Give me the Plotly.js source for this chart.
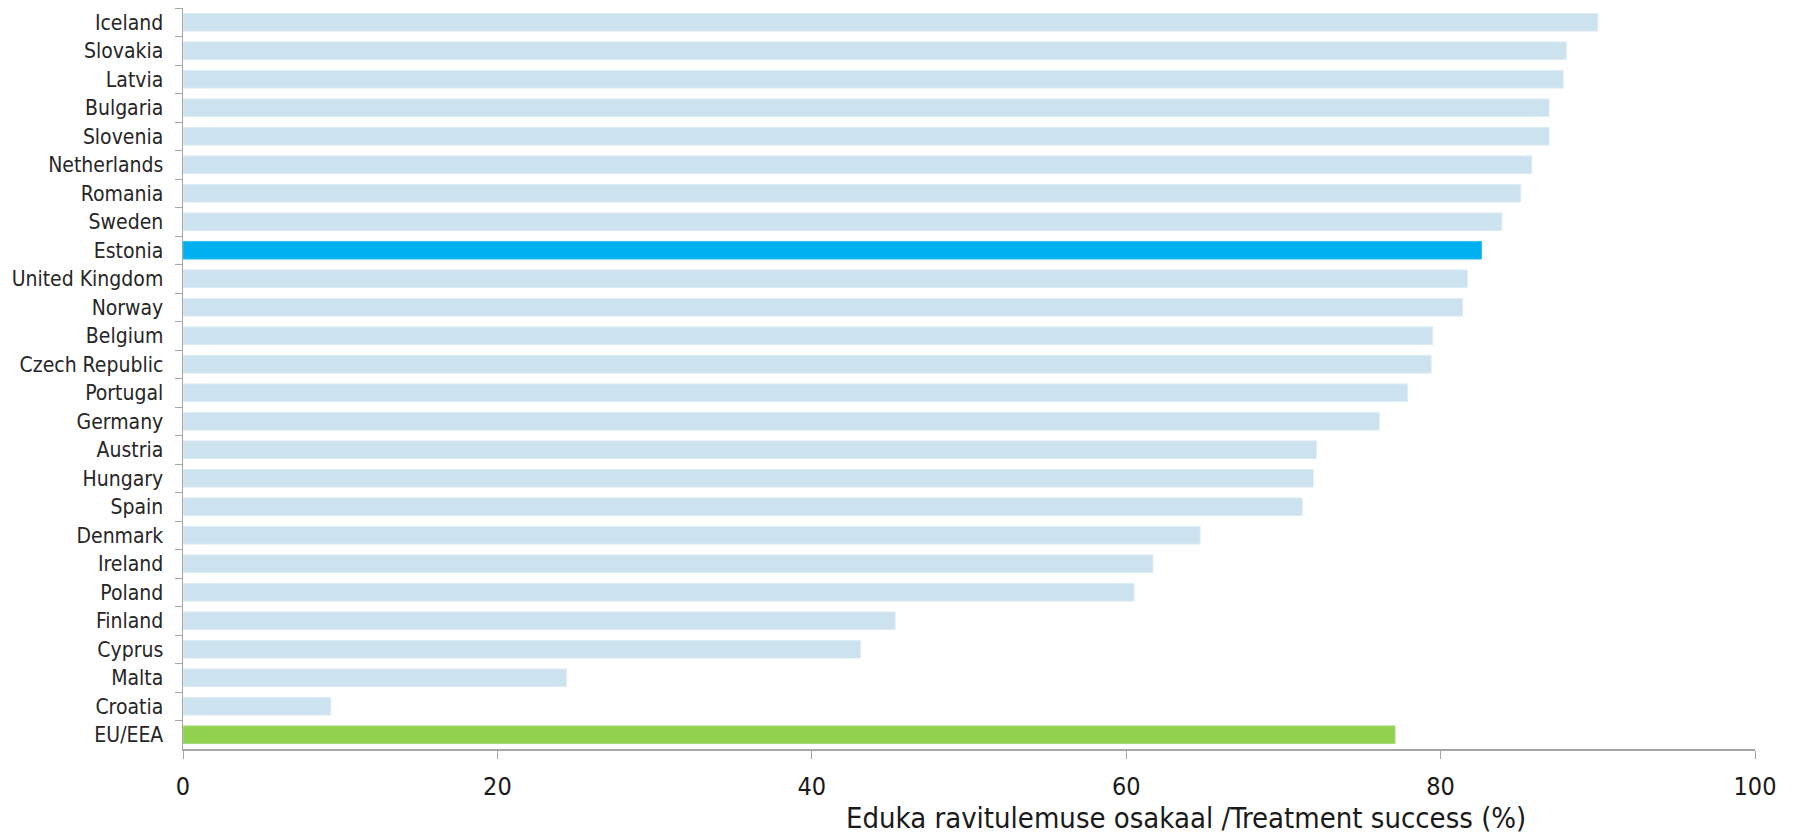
<!DOCTYPE html>
<html>
<head>
<meta charset="utf-8">
<script src="https://cdn.plot.ly/plotly-3.0.1.min.js"></script>
<style>
  html, body { margin: 0; padding: 0; background: #ffffff; }
  #chart { width: 1797px; height: 836px; }
</style>
</head>
<body>
<div id="chart"></div>
<script>
// Treatment success by country, listed from top to bottom
const countries = [
  "Iceland", "Slovakia", "Latvia", "Bulgaria", "Slovenia", "Netherlands",
  "Romania", "Sweden", "Estonia", "United Kingdom", "Norway", "Belgium",
  "Czech Republic", "Portugal", "Germany", "Austria", "Hungary", "Spain",
  "Denmark", "Ireland", "Poland", "Finland", "Cyprus", "Malta", "Croatia",
  "EU/EEA"
];
const successPct = [
  90.0, 88.0, 87.8, 86.9, 86.9, 85.8,
  85.1, 83.9, 82.6, 81.7, 81.4, 79.5,
  79.4, 77.9, 76.1, 72.1, 71.9, 71.2,
  64.7, 61.7, 60.5, 45.3, 43.1, 24.4, 9.4,
  77.1
];
const xTicks = [0, 20, 40, 60, 80, 100];

const highlightCountry = "Estonia";
const aggregateLabel = "EU/EEA";

const barColors = countries.map(c =>
  c === highlightCountry ? "#00B0F0" :
  c === aggregateLabel ? "#92D050" : "#CCE2EE");
const edgeColors = countries.map(c =>
  c === highlightCountry ? "#33C0F3" :
  c === aggregateLabel ? "#A8DA78" : "#DDECF4");

const labelFont = "DejaVu Sans Condensed, DejaVu Sans, sans-serif";

const trace = {
  type: "bar",
  orientation: "h",
  y: countries,
  x: successPct,
  marker: { color: barColors, line: { color: edgeColors, width: 1 } },
  hoverinfo: "x+y"
};

const layout = {
  width: 1797,
  height: 836,
  margin: { l: 183, r: 42, t: 8, b: 87 },
  paper_bgcolor: "#ffffff",
  plot_bgcolor: "#ffffff",
  bargap: 0.38,
  showlegend: false,
  font: { family: labelFont, color: "#262626" },
  xaxis: {
    range: [0, 100],
    tickvals: xTicks,
    ticktext: xTicks.map(String),
    showgrid: false,
    zeroline: false,
    showline: true,
    linecolor: "#A6A6A6",
    linewidth: 1.5,
    ticks: "outside",
    ticklen: 8,
    tickwidth: 1,
    tickcolor: "#A6A6A6",
    ticklabelstandoff: 6,
    tickfont: { family: labelFont, size: 25, color: "#1a1a1a" },
    fixedrange: true
  },
  yaxis: {
    type: "category",
    autorange: "reversed",
    showgrid: false,
    zeroline: false,
    showline: true,
    linecolor: "#A6A6A6",
    linewidth: 1.5,
    ticks: "outside",
    tickson: "boundaries",
    ticklen: 7,
    tickwidth: 1,
    tickcolor: "#A6A6A6",
    ticklabelstandoff: 14,
    tickfont: { family: labelFont, size: 21, color: "#262626" },
    fixedrange: true
  },
  annotations: [{
    text: "Eduka ravitulemuse osakaal /Treatment success (%)",
    xref: "paper", yref: "paper",
    x: 0.638, y: 0,
    xanchor: "center", yanchor: "middle",
    yshift: -69,
    showarrow: false,
    font: { family: labelFont, size: 29, color: "#1a1a1a" }
  }]
};

Plotly.newPlot("chart", [trace], layout, { displayModeBar: false, staticPlot: true });
</script>
</body>
</html>
